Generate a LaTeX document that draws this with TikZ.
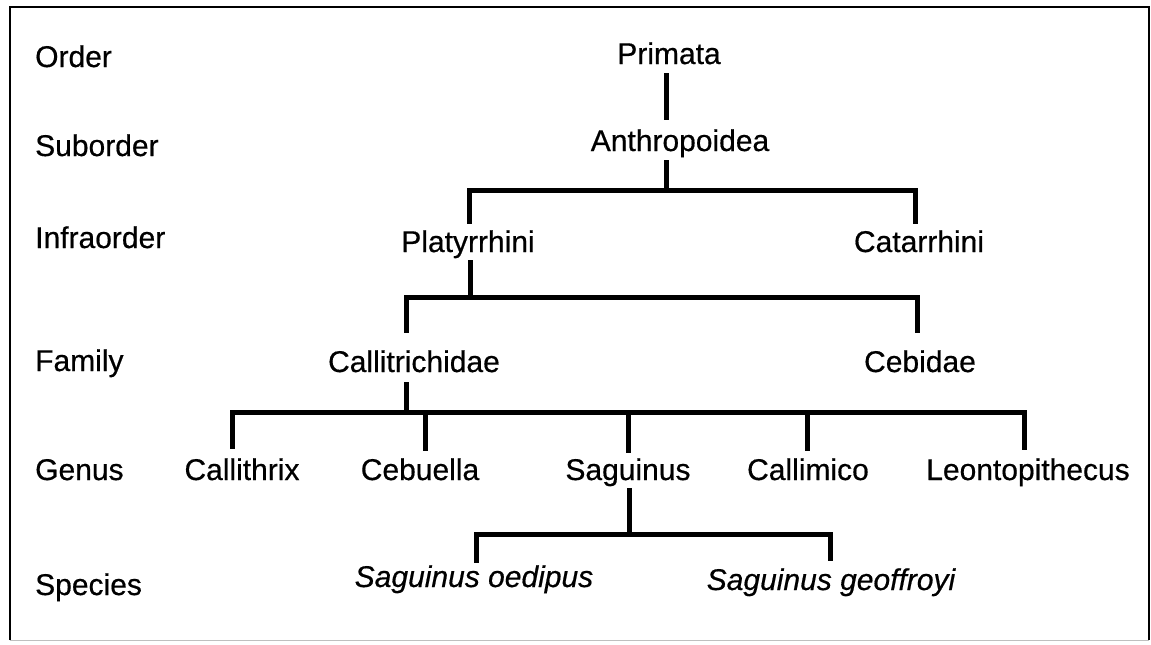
\documentclass[tikz,border=0pt]{standalone}
\usepackage{fontspec}
\setmainfont{Liberation Sans}
\newfontfamily\heavy{Liberation Sans}[FakeBold=0.5]
\newfontfamily\heavyit{Liberation Sans Italic}[FakeBold=0.5]
\begin{document}
\begin{tikzpicture}[x=1pt,y=-1pt,
  txt/.style={anchor=base,inner sep=0pt,font=\heavy\fontsize{30}{36}\selectfont},
  rank/.style={anchor=base west,inner sep=0pt,font=\heavy\fontsize{30}{36}\selectfont},
  sp/.style={txt,font=\heavyit\fontsize{30}{36}\selectfont},
  br/.style={line width=5pt,line join=miter,line cap=rect}]
\useasboundingbox (0,0) rectangle (1151,645);
% frame
\coordinate (f1) at (10,640); \coordinate (f2) at (10,7);
\coordinate (f3) at (1149,7); \coordinate (f4) at (1149,640);
\draw[line width=2pt] (f1) -- (f2) -- (f3) -- (f4);
\draw[line width=1pt,black!25] (f1) -- (f4);
% rank labels
\node[rank] (lOrder) at (35,67) {Order};
\node[rank] (lSub) at (35,156) {Suborder};
\node[rank] (lInfra) at (35,248) {Infraorder};
\node[rank] (lFam) at (35,371) {Family};
\node[rank] (lGen) at (35,480) {Genus};
\node[rank] (lSp) at (35,595) {Species};
% taxa
\node[txt] (prim) at (669,64) {Primata};
\node[txt] (anth) at (680,151) {Anthropoidea};
\node[txt] (plat) at (468,252) {Platyrrhini};
\node[txt] (cata) at (919,252) {Catarrhini};
\node[txt] (call) at (414,372) {Callitrichidae};
\node[txt] (cebi) at (920,372) {Cebidae};
\node[txt] (cthr) at (242,480) {Callithrix};
\node[txt] (cebu) at (420,480) {Cebuella};
\node[txt] (sagu) at (628,480) {Saguinus};
\node[txt] (cmic) at (808,480) {Callimico};
\node[txt] (leon) at (1028,480) {Leontopithecus};
\node[sp] (oedi) at (474,587) {Saguinus oedipus};
\node[sp] (geof) at (831,590) {Saguinus geoffroyi};
% connector points
\coordinate (a1) at (666,75);  \coordinate (a2) at (666,117);
\coordinate (b1) at (666,162); \coordinate (b2) at (666,190);
\coordinate (bl) at (469,190); \coordinate (bl2) at (469,221);
\coordinate (br) at (915,190); \coordinate (br2) at (915,221);
\coordinate (c1) at (470,262); \coordinate (c2) at (470,297);
\coordinate (cl) at (406,297); \coordinate (cl2) at (406,330);
\coordinate (cr) at (917,297); \coordinate (cr2) at (917,330);
\coordinate (d1) at (406,384); \coordinate (d2) at (406,412);
\coordinate (dl) at (232,412); \coordinate (dl2) at (232,446);
\coordinate (dr) at (1024,412); \coordinate (dr2) at (1024,447);
\coordinate (d3) at (425,412); \coordinate (d32) at (425,448);
\coordinate (d4) at (628,412); \coordinate (d42) at (628,450);
\coordinate (d5) at (807,412); \coordinate (d52) at (807,448);
\coordinate (e1) at (629,490); \coordinate (e2) at (629,534);
\coordinate (el) at (476,534); \coordinate (el2) at (476,560);
\coordinate (er) at (830,534); \coordinate (er2) at (830,558);
% tree
\draw[br] (a1) -- (a2);
\draw[br] (b1) -- (b2);
\draw[br] (bl2) -- (bl) -- (br) -- (br2);
\draw[br] (c1) -- (c2);
\draw[br] (cl2) -- (cl) -- (cr) -- (cr2);
\draw[br] (d1) -- (d2);
\draw[br] (dl2) -- (dl) -- (dr) -- (dr2);
\draw[br] (d3) -- (d32);
\draw[br] (d4) -- (d42);
\draw[br] (d5) -- (d52);
\draw[br] (e1) -- (e2);
\draw[br] (el2) -- (el) -- (er) -- (er2);
\end{tikzpicture}
\end{document}
